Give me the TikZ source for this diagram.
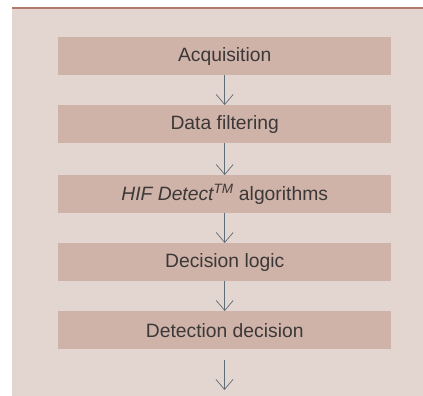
\documentclass[tikz,border=0pt]{standalone}
\usepackage{fontspec}
\setmainfont{Liberation Sans}
\usetikzlibrary{arrows.meta}
\definecolor{bgc}{HTML}{E3D5CF}
\definecolor{boxc}{HTML}{CFB3A9}
\definecolor{topc}{HTML}{B07A6C}
\definecolor{arrc}{HTML}{5E6C78}
\definecolor{txtc}{HTML}{3C3838}
\tikzset{
  stepbox/.style={fill=boxc, draw=none, minimum width=333pt, minimum height=38pt, inner sep=0pt,
    font=\fontsize{19.3}{21}\selectfont, text=txtc, anchor=north west},
  flow/.style={draw=arrc, line width=0.7pt, -{Straight Barb[length=10pt,width=17pt,line width=0.7pt]}}
}
\begin{document}
\begin{tikzpicture}[x=1pt,y=-1pt]
\useasboundingbox (0,0) rectangle (423,396);
\fill[white] (0,0) rectangle (423,396);
\fill[bgc] (12,8.5) rectangle (423,396);
\draw[topc, line width=1.5pt] (12,8) -- (423,8);
\node[stepbox] (a) at (58,37) {Acquisition};
\node[stepbox] (b) at (58,105) {Data filtering};
\node[stepbox] (c) at (58,175) {\textit{HIF Detect\textsuperscript{TM}} algorithms};
\node[stepbox] (d) at (58,243) {Decision logic};
\node[stepbox] (e) at (58,311) {Detection decision};
\coordinate (start) at (224.5,360);
\coordinate (end) at (224.5,390);
\draw[flow] (a.south) -- (b.north);
\draw[flow] (b.south) -- (c.north);
\draw[flow] (c.south) -- (d.north);
\draw[flow] (d.south) -- (e.north);
\draw[flow] (start) -- (end);
\end{tikzpicture}
\end{document}
